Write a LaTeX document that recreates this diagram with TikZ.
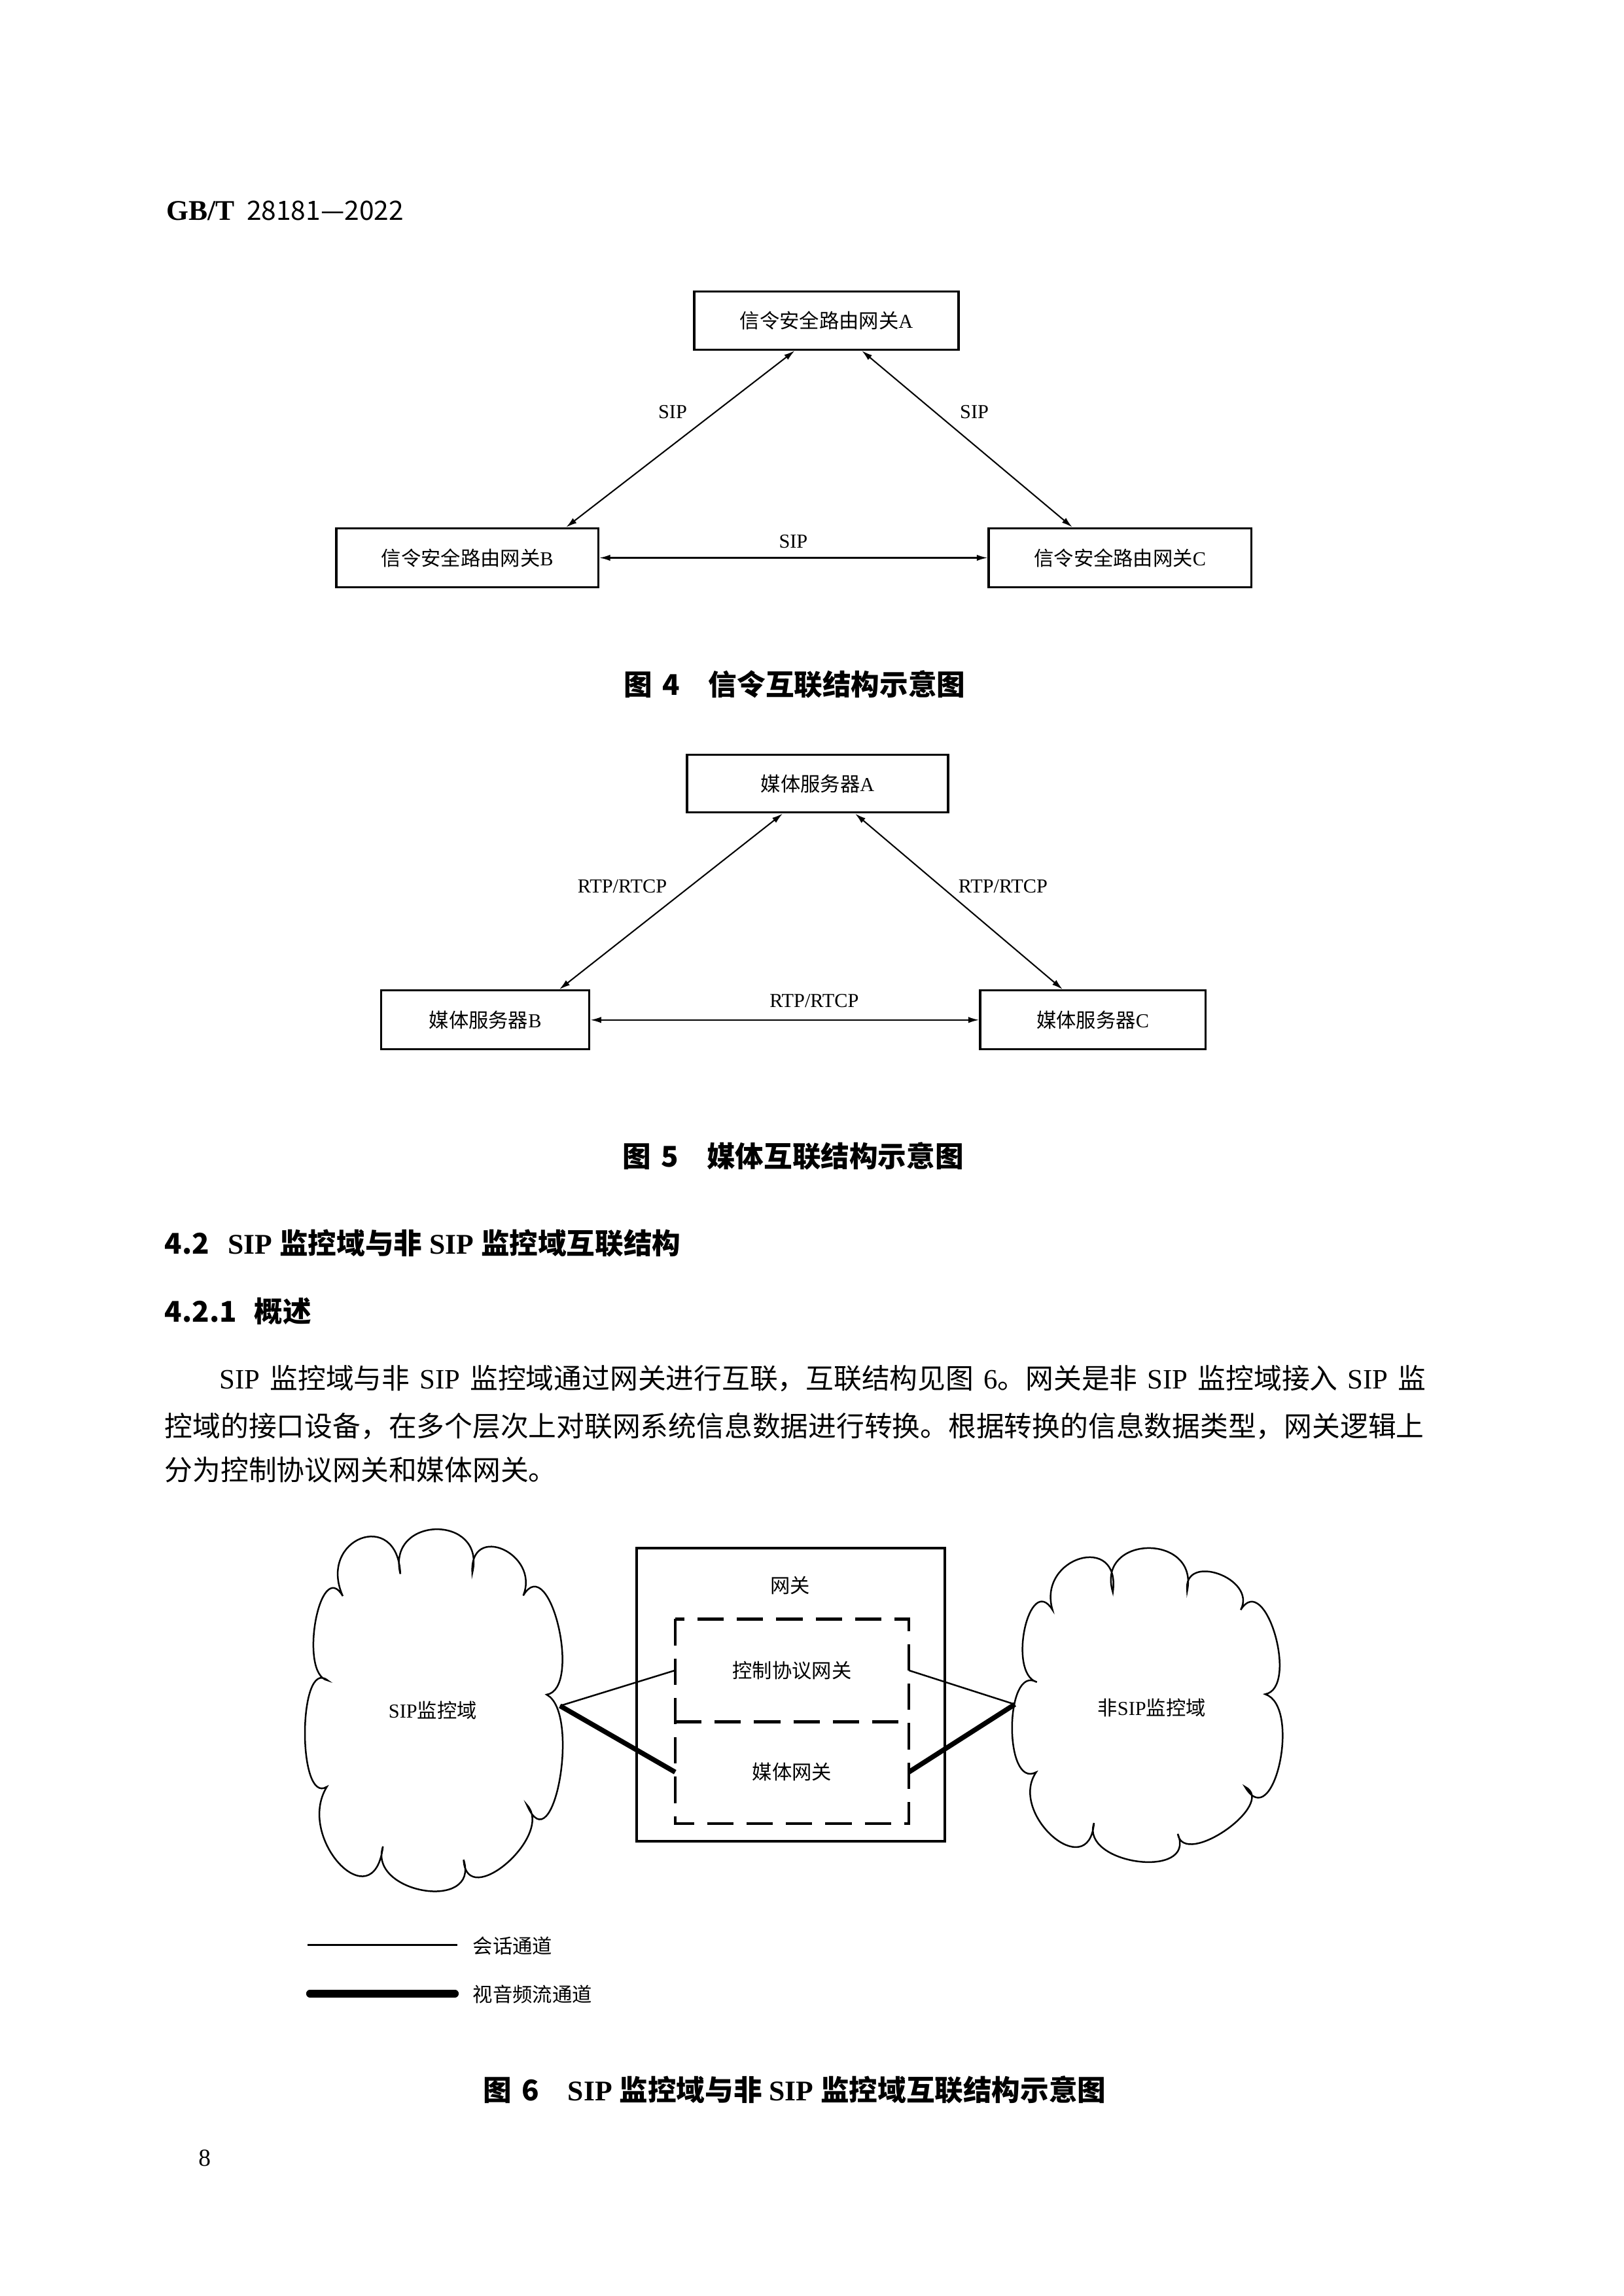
\documentclass[tikz,border=0pt]{standalone}
\usepackage{fontspec}
\setmainfont{Liberation Serif}
\newfontfamily\cjk{Noto Sans CJK SC}
\usetikzlibrary{arrows.meta,calc}
\newcommand\zh[1]{{\cjk #1}}
\newcommand\figfont{\fontsize{7.3pt}{8.5pt}\selectfont}
\newcommand\bodyfont{\fontsize{10.3pt}{12pt}\selectfont}
\newcommand\capfont{\fontsize{10.5pt}{12pt}\selectfont\bfseries}
\def\U{0.19039mm}
\newcommand\lobe[3]{.. controls ($0.5333*(#1)+1.3333*(#2)-0.8667*(#3)$) and ($0.5333*(#3)+1.3333*(#2)-0.8667*(#1)$) .. (#3)}
\tikzset{
  box/.style={draw, line width=0.8pt, inner sep=0pt, font=\figfont},
  conn/.style={line width=0.5pt, {Latex[length=1.4mm,width=0.8mm]}-{Latex[length=1.4mm,width=0.8mm]}},
  lbl/.style={inner sep=0pt, font=\figfont},
  txt/.style={inner sep=0pt, anchor=west},
  dsh/.style={line width=1.1pt, dash pattern=on 3.4mm off 1.7mm},
  sess/.style={line width=0.6pt},
  av/.style={line width=1.8pt},
  cloudline/.style={line width=0.6pt}
}
\begin{document}
\begin{tikzpicture}[x=0.19039mm, y=-0.19039mm]
\fill[white] (0,0) rectangle (1103,1560);
\useasboundingbox (0,0) rectangle (1103,1560);

% header
\node[anchor=base west, inner sep=0pt] (hdr) at (112.6,149.4)
  {\fontsize{10.5pt}{12pt}\selectfont\bfseries GB/T\hspace{1.6mm}{\cjk\mdseries\fontsize{9.8pt}{12pt}\selectfont 28181—2022}};

% ---------- Figure 4 ----------
\node[box, minimum width=179.5*\U, minimum height=39.5*\U] (sA) at (561.5,217.75) {\zh{信令安全路由网关}A};
\node[box, minimum width=178*\U, minimum height=40*\U] (sB) at (317.5,379) {\zh{信令安全路由网关}B};
\node[box, minimum width=178.5*\U, minimum height=40*\U] (sC) at (761,379) {\zh{信令安全路由网关}C};
\draw[conn] ($(sA.south)+(-21.5,0)$) -- ($(sB.north)+(67.1,0)$);
\draw[conn] ($(sA.south)+(24,0)$) -- ($(sC.north)+(-32.4,0)$);
\draw[conn] (sB.east) -- (sC.west);
\node[lbl] (sipAB) at (457,280) {SIP};
\node[lbl] (sipAC) at (662,280) {SIP};
\node[lbl] (sipBC) at (539,368) {SIP};
\node[inner sep=0pt] (cap4) at (540,465) {\capfont\zh{图\hspace{0.35em}4\hspace{1em}信令互联结构示意图}};

% ---------- Figure 5 ----------
\node[box, minimum width=177.3*\U, minimum height=39.3*\U] (mA) at (555.5,532.4) {\zh{媒体服务器}A};
\node[box, minimum width=141.4*\U, minimum height=40*\U] (mB) at (329.7,693) {\zh{媒体服务器}B};
\node[box, minimum width=153*\U, minimum height=40*\U] (mC) at (742.5,693) {\zh{媒体服务器}C};
\draw[conn] ($(mA.south)+(-23.7,0)$) -- ($(mB.north)+(50.3,0)$);
\draw[conn] ($(mA.south)+(25.5,0)$) -- ($(mC.north)+(-20.5,0)$);
\draw[conn] (mB.east) -- (mC.west);
\node[lbl] (rtpAB) at (422.8,602.4) {RTP/RTCP};
\node[lbl] (rtpAC) at (681.5,602.4) {RTP/RTCP};
\node[lbl] (rtpBC) at (553.2,680.2) {RTP/RTCP};
\node[inner sep=0pt] (cap5) at (538.8,785.7) {\capfont\zh{图\hspace{0.35em}5\hspace{1em}媒体互联结构示意图}};

% ---------- Section text ----------
\node[txt] (h42) at (111.6,844.7) {\capfont\makebox[23.3pt][l]{\zh{4.2}}SIP \zh{监控域与非} SIP \zh{监控域互联结构}};
\node[txt] (h421) at (111.6,890.7) {\capfont\makebox[32.9pt][l]{\zh{4.2.1}}\zh{概述}};
\node[txt] (p1) at (148.8,936.6) {\bodyfont\makebox[156.06mm][s]{SIP \zh{监控域与非} SIP \zh{监控域通过网关进行互联，互联结构见图} 6\zh{。网关是非} SIP \zh{监控域接入} SIP \zh{监}}};
\node[txt] (p2) at (111.6,969.2) {\bodyfont\zh{控域的接口设备，在多个层次上对联网系统信息数据进行转换。根据转换的信息数据类型，网关逻辑上}};
\node[txt] (p3) at (111.6,998.8) {\bodyfont\zh{分为控制协议网关和媒体网关。}};

% ---------- Figure 6 ----------
% left cloud
\coordinate (LC1) at (272.0,1069.4);
\coordinate (LC2) at (320.9,1068.7);
\coordinate (LC3) at (355.5,1084.1);
\coordinate (LC4) at (371.4,1151.4);
\coordinate (LC5) at (358.0,1226.3);
\coordinate (LC6) at (315.0,1263.6);
\coordinate (LC7) at (260.2,1254.5);
\coordinate (LC8) at (222.1,1214.0);
\coordinate (LC9) at (222.6,1141.7);
\coordinate (LC10) at (232.9,1084.4);
\coordinate (LM1) at (296.5,1039.1);
\coordinate (LM2) at (341.8,1052.8);
\coordinate (LM3) at (379.4,1104.9);
\coordinate (LM4) at (380.3,1209.2);
\coordinate (LM5) at (344.4,1266.0);
\coordinate (LM6) at (287.9,1284.5);
\coordinate (LM7) at (230.7,1266.5);
\coordinate (LM8) at (207.2,1176.7);
\coordinate (LM9) at (214.4,1101.5);
\coordinate (LM10) at (245.2,1045.4);
\draw[cloudline] (LC1) \lobe{LC1}{LM1}{LC2} \lobe{LC2}{LM2}{LC3} \lobe{LC3}{LM3}{LC4}
  \lobe{LC4}{LM4}{LC5} \lobe{LC5}{LM5}{LC6} \lobe{LC6}{LM6}{LC7} \lobe{LC7}{LM7}{LC8}
  \lobe{LC8}{LM8}{LC9} \lobe{LC9}{LM9}{LC10} \lobe{LC10}{LM10}{LC1} -- cycle;
% right cloud
\coordinate (RC1) at (756.1,1081.8);
\coordinate (RC2) at (806.6,1081.0);
\coordinate (RC3) at (843.0,1093.8);
\coordinate (RC4) at (859.6,1151.1);
\coordinate (RC5) at (845.9,1214.0);
\coordinate (RC6) at (800.2,1246.0);
\coordinate (RC7) at (743.3,1238.6);
\coordinate (RC8) at (704.0,1204.1);
\coordinate (RC9) at (704.5,1142.9);
\coordinate (RC10) at (715.1,1093.8);
\coordinate (RM1) at (780.1,1051.9);
\coordinate (RM2) at (827.9,1069.4);
\coordinate (RM3) at (866.4,1110.8);
\coordinate (RM4) at (869.5,1198.1);
\coordinate (RM5) at (833.1,1243.4);
\coordinate (RM6) at (773.2,1264.8);
\coordinate (RM7) at (715.1,1247.7);
\coordinate (RM8) at (687.7,1173.3);
\coordinate (RM9) at (696.3,1106.6);
\coordinate (RM10) at (733.9,1059.1);
\draw[cloudline] (RC1) \lobe{RC1}{RM1}{RC2} \lobe{RC2}{RM2}{RC3} \lobe{RC3}{RM3}{RC4}
  \lobe{RC4}{RM4}{RC5} \lobe{RC5}{RM5}{RC6} \lobe{RC6}{RM6}{RC7} \lobe{RC7}{RM7}{RC8}
  \lobe{RC8}{RM8}{RC9} \lobe{RC9}{RM9}{RC10} \lobe{RC10}{RM10}{RC1} -- cycle;
\node[lbl] (sipd) at (294,1162) {SIP\zh{监控域}};
\node[lbl] (nsipd) at (782.5,1160.5) {\zh{非}SIP\zh{监控域}};

% gateway
\node[draw, line width=0.9pt, minimum width=209.5*\U, minimum height=199*\U, inner sep=0pt] (gw) at (537.25,1151.5) {};
\node[lbl] (gwl) at (537,1077) {\zh{网关}};
\node[lbl, minimum width=158*\U, minimum height=69*\U] (ctrl) at (538.1,1134.9) {\zh{控制协议网关}};
\node[lbl, minimum width=158*\U, minimum height=69.3*\U] (media) at (538.1,1204.05) {\zh{媒体网关}};
\draw[dsh] (ctrl.north west) rectangle (media.south east);
\draw[dsh] (ctrl.south west) -- (ctrl.south east);

\coordinate (lap) at (380.5,1159);
\coordinate (rap) at (689.5,1158);
\draw[sess] (lap) -- (ctrl.west);
\draw[av] (lap) -- (media.west);
\draw[sess] (ctrl.east) -- (rap);
\draw[av] (media.east) -- (rap);

% legend
\coordinate (l1a) at (209.1,1321.5);
\coordinate (l1b) at (310.9,1321.5);
\coordinate (l2a) at (210.6,1354.5);
\coordinate (l2b) at (309.1,1354.5);
\draw[line width=0.8pt] (l1a) -- (l1b);
\draw[line width=2.8pt, line cap=round] (l2a) -- (l2b);
\node[lbl, anchor=west] (l1t) at (321,1322) {\zh{会话通道}};
\node[lbl, anchor=west] (l2t) at (321,1355) {\zh{视音频流通道}};

\node[inner sep=0pt] (cap6) at (540,1420) {\capfont\zh{图\hspace{0.35em}6\hspace{1em}}SIP \zh{监控域与非} SIP \zh{监控域互联结构示意图}};

% page number
\node[inner sep=0pt] (pg) at (139,1466.4) {\fontsize{9pt}{10pt}\selectfont 8};
\end{tikzpicture}
\end{document}
